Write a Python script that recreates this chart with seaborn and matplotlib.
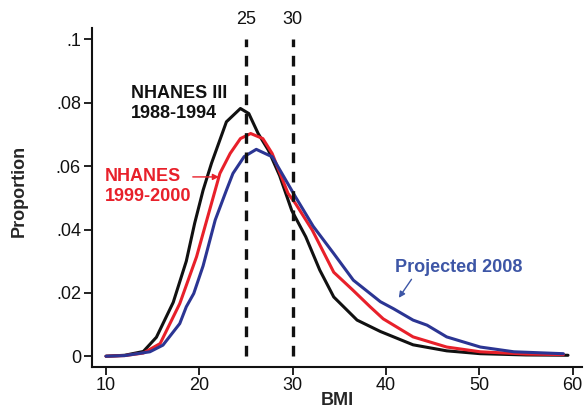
import pandas as pd
import matplotlib
matplotlib.use("Agg")
import matplotlib.pyplot as plt
import seaborn as sns

# BMI distribution curves
bmi_1988 = [10, 12, 14, 15.4, 17.2, 18.6, 19.5, 20.4, 21.3, 22.9, 24.4, 25.3, 26.3,
            27.4, 28.6, 29.9, 31.4, 32.9, 34.4, 36.9, 39.4, 42.9, 46.5, 50.1, 55, 59.5]
prop_1988 = [0, 0.0003, 0.0015, 0.006, 0.017, 0.030, 0.042, 0.0524, 0.0609, 0.074,
             0.0782, 0.0766, 0.0703, 0.065, 0.057, 0.046, 0.0377, 0.0272, 0.0187,
             0.0114, 0.0078, 0.0036, 0.0017, 0.0008, 0.0004, 0.0003]

bmi_1999 = [10, 12, 14, 15.8, 17.9, 19.7, 20.8, 22.2, 23.3, 24.4, 25.5, 26.8, 27.8,
            29.5, 30.3, 32.1, 34.4, 36.4, 38.3, 39.7, 42.9, 46.5, 50.1, 55, 59]
prop_1999 = [0, 0.0002, 0.001, 0.004, 0.0166, 0.0314, 0.043, 0.0577, 0.064, 0.0687,
             0.0703, 0.0687, 0.064, 0.0514, 0.0482, 0.0398, 0.0265, 0.021, 0.0156,
             0.0118, 0.0061, 0.0029, 0.0014, 0.0007, 0.0005]

bmi_2008 = [10, 12, 14.7, 16.1, 17.9, 18.6, 19.4, 20.4, 21.7, 22.9, 23.6, 24.8, 26.1,
            27.4, 27.8, 30.3, 32.2, 34.4, 36.5, 39.4, 40.8, 42.9, 44.4, 46.5, 50.1,
            53.7, 59]
prop_2008 = [0, 0.0002, 0.0014, 0.0035, 0.0103, 0.0156, 0.0198, 0.0285, 0.043, 0.0524,
             0.0577, 0.063, 0.0653, 0.0635, 0.063, 0.0503, 0.041, 0.0324, 0.024,
             0.0172, 0.015, 0.0114, 0.0098, 0.0061, 0.0029, 0.0014, 0.0008]

series_names = ["NHANES III 1988-1994", "NHANES 1999-2000", "Projected 2008"]
cutoffs = [25, 30]
y_ticks = [0, 0.02, 0.04, 0.06, 0.08, 0.1]
y_tick_labels = ["0", ".02", ".04", ".06", ".08", ".1"]
x_ticks = [10, 20, 30, 40, 50, 60]

df = pd.concat([
    pd.DataFrame({"BMI": bmi_1988, "Proportion": prop_1988, "Survey": series_names[0]}),
    pd.DataFrame({"BMI": bmi_1999, "Proportion": prop_1999, "Survey": series_names[1]}),
    pd.DataFrame({"BMI": bmi_2008, "Proportion": prop_2008, "Survey": series_names[2]}),
])

black = "#111111"
red = "#e8202a"
blue = "#2b3593"
blue_text = "#3d56a6"

sns.set_style("ticks")
plt.rcParams['font.family'] = ['Liberation Sans', 'DejaVu Sans']

fig = plt.figure(figsize=(5.85, 4.09), dpi=100)
ax = fig.add_axes([0.1573, 0.1027, 0.8376, 0.8288])

sns.lineplot(data=df, x="BMI", y="Proportion", hue="Survey",
             palette=[black, red, blue], linewidth=2.2, errorbar=None,
             legend=False, ax=ax)

# overweight / obese cut-offs
ax.vlines(cutoffs, 0, 0.1, colors=black, linewidth=2.4,
          linestyles=(0, (3.2, 2.6)))
for c in cutoffs:
    ax.text(c, 0.1062, str(c), ha="center", va="center", fontsize=13,
            color=black, clip_on=False)

ax.set_xlim(8.5, 61.0)
ax.set_ylim(-0.0034, 0.1036)
ax.set_xticks(x_ticks)
ax.set_yticks(y_ticks)
ax.set_yticklabels(y_tick_labels)
ax.tick_params(axis="both", labelsize=13, length=6, width=1.3, color=black,
               labelcolor=black, pad=2)
ax.tick_params(axis="x", pad=1)
ax.set_xlabel("BMI", fontsize=13, fontweight="bold", labelpad=-1)
ax.set_ylabel("Proportion", fontsize=13, fontweight="bold")
ax.yaxis.set_label_coords(-0.131, 0.519)
for side in ["left", "bottom"]:
    ax.spines[side].set_linewidth(1.5)
    ax.spines[side].set_color(black)
sns.despine(ax=ax)

# series labels
ax.text(12.68, 0.0797, "NHANES III\n1988-1994", ha="left", va="center",
        fontsize=13, fontweight="bold", color=black, linespacing=1.25)
ax.text(9.9, 0.0535, "NHANES\n1999-2000", ha="left", va="center",
        fontsize=13, fontweight="bold", color=red, linespacing=1.25)
ax.annotate("", xy=(22.4, 0.0566), xytext=(19.0, 0.0566),
            arrowprops=dict(arrowstyle="-|>", color=red, lw=1.0,
                            mutation_scale=9))
ax.text(40.97, 0.0281, "Projected 2008", ha="left", va="center",
        fontsize=13, fontweight="bold", color=blue_text)
ax.annotate("", xy=(41.2, 0.0177), xytext=(42.9, 0.025),
            arrowprops=dict(arrowstyle="-|>", color=blue_text, lw=1.0,
                            mutation_scale=9))

fig.savefig("out.png", dpi=100)
